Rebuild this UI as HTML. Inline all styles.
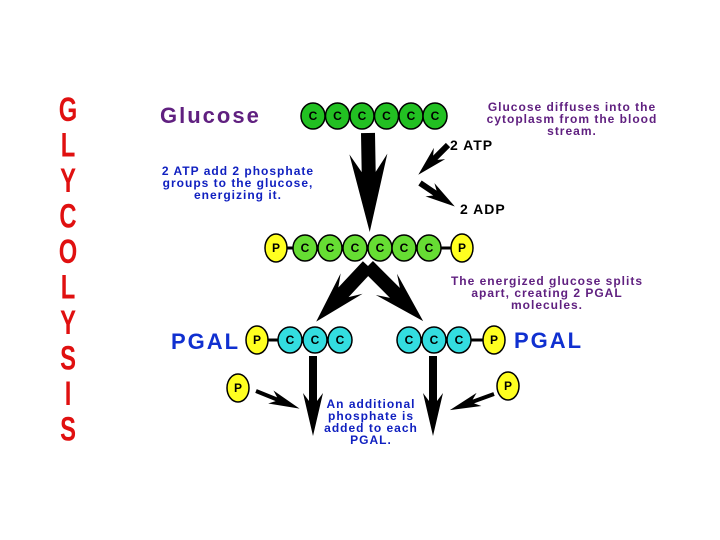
<!DOCTYPE html>
<html><head><meta charset="utf-8"><style>
html,body{margin:0;padding:0;background:#fff}
svg{display:block}
text{font-family:"Liberation Sans",sans-serif;font-weight:bold}
</style></head><body>
<svg width="720" height="540" viewBox="0 0 720 540" xmlns="http://www.w3.org/2000/svg">
<rect width="720" height="540" fill="#fff"/>
<g fill="#e01010" font-size="34" text-anchor="middle">
<text transform="translate(68,121) scale(0.7,1)">G</text>
<text transform="translate(68,156.5) scale(0.7,1)">L</text>
<text transform="translate(68,192) scale(0.7,1)">Y</text>
<text transform="translate(68,227.5) scale(0.7,1)">C</text>
<text transform="translate(68,263) scale(0.7,1)">O</text>
<text transform="translate(68,298.5) scale(0.7,1)">L</text>
<text transform="translate(68,334) scale(0.7,1)">Y</text>
<text transform="translate(68,369.5) scale(0.7,1)">S</text>
<text transform="translate(68,405) scale(0.7,1)">I</text>
<text transform="translate(68,440.5) scale(0.7,1)">S</text>
</g>
<text x="160" y="123" font-size="22" fill="#602080" letter-spacing="2">Glucose</text>
<g stroke="#000" stroke-width="1.5" fill="#22c022">
<ellipse cx="313" cy="116" rx="12" ry="13"/><ellipse cx="337.5" cy="116" rx="12" ry="13"/><ellipse cx="362" cy="116" rx="12" ry="13"/><ellipse cx="386.5" cy="116" rx="12" ry="13"/><ellipse cx="411" cy="116" rx="12" ry="13"/><ellipse cx="435" cy="116" rx="12" ry="13"/>
</g>
<g font-size="12" text-anchor="middle" fill="#000">
<text x="313" y="120">C</text><text x="337.5" y="120">C</text><text x="362" y="120">C</text><text x="386.5" y="120">C</text><text x="411" y="120">C</text><text x="435" y="120">C</text>
</g>
<g font-size="12" fill="#602080" text-anchor="middle" letter-spacing="1">
<text x="572" y="111">Glucose diffuses into the</text>
<text x="572" y="123">cytoplasm from the blood</text>
<text x="572" y="135">stream.</text>
</g>
<g font-size="12" fill="#1020c0" text-anchor="middle" letter-spacing="1">
<text x="238" y="175">2 ATP add 2 phosphate</text>
<text x="238" y="187">groups to the glucose,</text>
<text x="238" y="199">energizing it.</text>
</g>
<text x="450" y="150" font-size="14" fill="#000" letter-spacing="1">2 ATP</text>
<text x="460" y="214" font-size="14" fill="#000" letter-spacing="1">2 ADP</text>

<!-- arrows -->
<g fill="#000">
<g transform="translate(368,133) rotate(89)"><polygon points="0,-7 39,-7 21,-19 99,0 21,19 39,7 0,7"/></g>
<g transform="translate(368,266) rotate(133)"><polygon points="0,-7 36,-7 24,-15 76,0 24,15 36,7 0,7"/></g>
<g transform="translate(368,266) rotate(45)"><polygon points="0,-7 38,-7 26,-15 78,0 26,15 38,7 0,7"/></g>
<g transform="translate(313,356) rotate(90)"><polygon points="0,-4 45,-4 37,-10 80,0 37,10 45,4 0,4"/></g>
<g transform="translate(433,356) rotate(90)"><polygon points="0,-4 45,-4 37,-10 80,0 37,10 45,4 0,4"/></g>
<g transform="translate(448,145) rotate(135)"><polygon points="0,-3 18,-3 12,-8 42,0 12,8 18,3 0,3"/></g>
<g transform="translate(420,183) rotate(34)"><polygon points="0,-3 18,-3 12,-8 42,0 12,8 18,3 0,3"/></g>
<g transform="translate(256,391) rotate(22)"><polygon points="0,-2 22,-2 16,-7 47,0 16,7 22,2 0,2"/></g>
<g transform="translate(494,394) rotate(160)"><polygon points="0,-2 22,-2 16,-7 47,0 16,7 22,2 0,2"/></g>
</g>

<!-- energized chain -->
<g stroke="#000" stroke-width="3"><line x1="285" y1="248" x2="453" y2="248"/></g>
<g stroke="#000" stroke-width="1.5" fill="#66dd33">
<ellipse cx="305" cy="248" rx="12" ry="13"/><ellipse cx="330" cy="248" rx="12" ry="13"/><ellipse cx="355" cy="248" rx="12" ry="13"/><ellipse cx="380" cy="248" rx="12" ry="13"/><ellipse cx="404" cy="248" rx="12" ry="13"/><ellipse cx="429" cy="248" rx="12" ry="13"/>
</g>
<g stroke="#000" stroke-width="1.5" fill="#ffff20">
<ellipse cx="276" cy="248" rx="11" ry="14"/><ellipse cx="462" cy="248" rx="11" ry="14"/>
</g>
<g font-size="12" text-anchor="middle" fill="#000">
<text x="276" y="252">P</text><text x="462" y="252">P</text>
<text x="305" y="252">C</text><text x="330" y="252">C</text><text x="355" y="252">C</text><text x="380" y="252">C</text><text x="404" y="252">C</text><text x="429" y="252">C</text>
</g>

<g font-size="12" fill="#602080" text-anchor="middle" letter-spacing="1">
<text x="547" y="285">The energized glucose splits</text>
<text x="547" y="297">apart, creating 2 PGAL</text>
<text x="547" y="309">molecules.</text>
</g>

<!-- PGAL -->
<text x="171" y="349" font-size="22" fill="#1030d0" letter-spacing="2">PGAL</text>
<text x="514" y="348" font-size="22" fill="#1030d0" letter-spacing="2">PGAL</text>
<g stroke="#000" stroke-width="3"><line x1="265" y1="340" x2="290" y2="340"/><line x1="458" y1="340" x2="488" y2="340"/></g>
<g stroke="#000" stroke-width="1.5" fill="#33dde0">
<ellipse cx="290" cy="340" rx="12" ry="13"/><ellipse cx="315" cy="340" rx="12" ry="13"/><ellipse cx="340" cy="340" rx="12" ry="13"/>
<ellipse cx="409" cy="340" rx="12" ry="13"/><ellipse cx="434" cy="340" rx="12" ry="13"/><ellipse cx="459" cy="340" rx="12" ry="13"/>
</g>
<g stroke="#000" stroke-width="1.5" fill="#ffff20">
<ellipse cx="257" cy="340" rx="11" ry="14"/><ellipse cx="494" cy="340" rx="11" ry="14"/>
<ellipse cx="238" cy="388" rx="11" ry="14"/><ellipse cx="508" cy="386" rx="11" ry="14"/>
</g>
<g font-size="12" text-anchor="middle" fill="#000">
<text x="257" y="344">P</text><text x="494" y="344">P</text><text x="238" y="392">P</text><text x="508" y="390">P</text>
<text x="290" y="344">C</text><text x="315" y="344">C</text><text x="340" y="344">C</text>
<text x="409" y="344">C</text><text x="434" y="344">C</text><text x="459" y="344">C</text>
</g>
<g font-size="12" fill="#1020c0" text-anchor="middle" letter-spacing="1">
<text x="371" y="408">An additional</text>
<text x="371" y="420">phosphate is</text>
<text x="371" y="432">added to each</text>
<text x="371" y="444">PGAL.</text>
</g>
</svg>
</body></html>
